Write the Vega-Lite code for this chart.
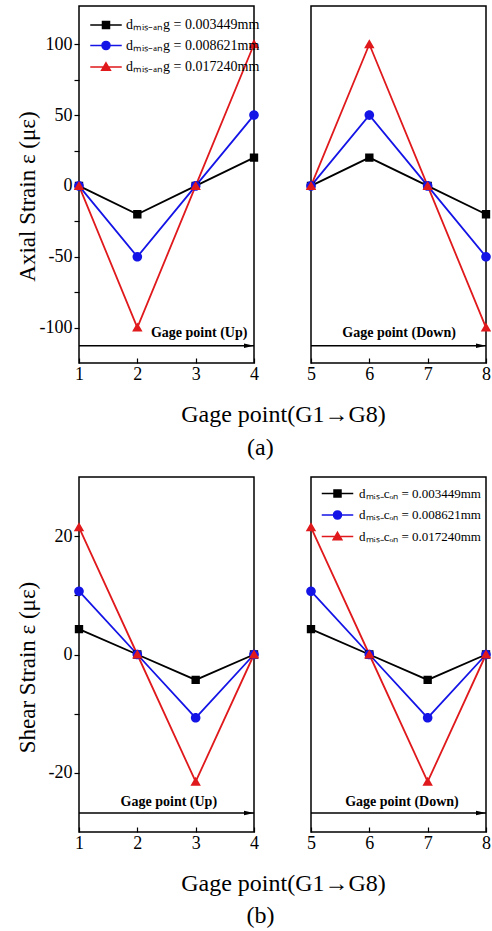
{
  "$schema": "https://vega.github.io/schema/vega-lite/v6.json",
  "background": "white",
  "padding": {"left": 15, "top": 5, "right": 0, "bottom": 0},
  "config": {
    "view": {"stroke": "black", "strokeWidth": 1.5},
    "axis": {"domain": false, "grid": false, "labelFont": "Liberation Serif", "labelFontSize": 18, "labelColor": "black", "labelFlush": false, "titleFont": "Liberation Serif", "titleFontSize": 23, "titleFontWeight": "normal", "titleColor": "black", "tickColor": "black", "tickWidth": 1.2},
    "legend": {"padding": 0, "symbolSize": 49, "symbolStrokeWidth": 1.5, "symbolOpacity": 1, "labelFont": "Liberation Serif", "labelColor": "black"}
  },
  "datasets": {
    "strain": [
      {"panel": "a", "d": "0.003449mm", "g": 1, "strain": 0},
      {"panel": "a", "d": "0.003449mm", "g": 2, "strain": -20},
      {"panel": "a", "d": "0.003449mm", "g": 3, "strain": 0},
      {"panel": "a", "d": "0.003449mm", "g": 4, "strain": 20},
      {"panel": "a", "d": "0.003449mm", "g": 5, "strain": 0},
      {"panel": "a", "d": "0.003449mm", "g": 6, "strain": 20},
      {"panel": "a", "d": "0.003449mm", "g": 7, "strain": 0},
      {"panel": "a", "d": "0.003449mm", "g": 8, "strain": -20},
      {"panel": "a", "d": "0.008621mm", "g": 1, "strain": 0},
      {"panel": "a", "d": "0.008621mm", "g": 2, "strain": -50},
      {"panel": "a", "d": "0.008621mm", "g": 3, "strain": 0},
      {"panel": "a", "d": "0.008621mm", "g": 4, "strain": 50},
      {"panel": "a", "d": "0.008621mm", "g": 5, "strain": 0},
      {"panel": "a", "d": "0.008621mm", "g": 6, "strain": 50},
      {"panel": "a", "d": "0.008621mm", "g": 7, "strain": 0},
      {"panel": "a", "d": "0.008621mm", "g": 8, "strain": -50},
      {"panel": "a", "d": "0.017240mm", "g": 1, "strain": 0},
      {"panel": "a", "d": "0.017240mm", "g": 2, "strain": -100},
      {"panel": "a", "d": "0.017240mm", "g": 3, "strain": 0},
      {"panel": "a", "d": "0.017240mm", "g": 4, "strain": 100},
      {"panel": "a", "d": "0.017240mm", "g": 5, "strain": 0},
      {"panel": "a", "d": "0.017240mm", "g": 6, "strain": 100},
      {"panel": "a", "d": "0.017240mm", "g": 7, "strain": 0},
      {"panel": "a", "d": "0.017240mm", "g": 8, "strain": -100},
      {"panel": "b", "d": "0.003449mm", "g": 1, "strain": 4.3},
      {"panel": "b", "d": "0.003449mm", "g": 2, "strain": 0},
      {"panel": "b", "d": "0.003449mm", "g": 3, "strain": -4.3},
      {"panel": "b", "d": "0.003449mm", "g": 4, "strain": 0},
      {"panel": "b", "d": "0.003449mm", "g": 5, "strain": 4.3},
      {"panel": "b", "d": "0.003449mm", "g": 6, "strain": 0},
      {"panel": "b", "d": "0.003449mm", "g": 7, "strain": -4.3},
      {"panel": "b", "d": "0.003449mm", "g": 8, "strain": 0},
      {"panel": "b", "d": "0.008621mm", "g": 1, "strain": 10.7},
      {"panel": "b", "d": "0.008621mm", "g": 2, "strain": 0},
      {"panel": "b", "d": "0.008621mm", "g": 3, "strain": -10.7},
      {"panel": "b", "d": "0.008621mm", "g": 4, "strain": 0},
      {"panel": "b", "d": "0.008621mm", "g": 5, "strain": 10.7},
      {"panel": "b", "d": "0.008621mm", "g": 6, "strain": 0},
      {"panel": "b", "d": "0.008621mm", "g": 7, "strain": -10.7},
      {"panel": "b", "d": "0.008621mm", "g": 8, "strain": 0},
      {"panel": "b", "d": "0.017240mm", "g": 1, "strain": 21.5},
      {"panel": "b", "d": "0.017240mm", "g": 2, "strain": 0},
      {"panel": "b", "d": "0.017240mm", "g": 3, "strain": -21.5},
      {"panel": "b", "d": "0.017240mm", "g": 4, "strain": 0},
      {"panel": "b", "d": "0.017240mm", "g": 5, "strain": 21.5},
      {"panel": "b", "d": "0.017240mm", "g": 6, "strain": 0},
      {"panel": "b", "d": "0.017240mm", "g": 7, "strain": -21.5},
      {"panel": "b", "d": "0.017240mm", "g": 8, "strain": 0}
    ],
    "notes": [
      {"panel": "a", "side": "up", "x0": 1, "x1": 4, "ay": -112.8, "tx": 3.06, "ty": -104, "label": "Gage point (Up)"},
      {"panel": "a", "side": "down", "x0": 5, "x1": 8, "ay": -112.8, "tx": 6.51, "ty": -104, "label": "Gage point (Down)"},
      {"panel": "b", "side": "up", "x0": 1, "x1": 4, "ay": -26.8, "tx": 2.54, "ty": -25, "label": "Gage point (Up)"},
      {"panel": "b", "side": "down", "x0": 5, "x1": 8, "ay": -26.8, "tx": 6.56, "ty": -25, "label": "Gage point (Down)"}
    ]
  },
  "resolve": {"scale": {"x": "independent", "y": "independent", "color": "independent", "shape": "independent", "fill": "independent", "stroke": "independent"}, "legend": {"color": "independent", "shape": "independent", "fill": "independent", "stroke": "independent"}},
  "spacing": 16,
  "vconcat": [
    {
      "bounds": "flush",
      "spacing": 57,
      "resolve": {"scale": {"x": "independent", "y": "independent", "color": "independent", "shape": "independent", "fill": "independent", "stroke": "independent"}, "legend": {"color": "independent", "shape": "independent", "fill": "independent", "stroke": "independent"}},
      "title": {"text": "(a)", "orient": "bottom", "anchor": "middle", "frame": "bounds", "offset": 9, "fontSize": 24, "font": "Liberation Serif", "fontWeight": "normal", "color": "black"},
      "hconcat": [
        {
          "width": 175, "height": 357,
          "layer": [
            {"data": {"name": "strain"}, "transform": [{"filter": "datum.panel=='a' && datum.g<=4"}],
             "mark": {"type": "line", "strokeWidth": 1.8},
             "encoding": {
               "x": {"field": "g", "type": "quantitative", "scale": {"domain": [1, 4], "nice": false, "zero": false},
                     "axis": {"values": [1, 2, 3, 4], "format": "d", "tickSize": -5, "labelPadding": 7, "title": "Gage point(G1→G8)", "titleX": 204, "titleY": 51, "titleAlign": "center", "titleBaseline": "middle", "titleFontSize": 24}},
               "y": {"field": "strain", "type": "quantitative", "scale": {"domain": [-125, 127], "nice": false, "zero": false},
                     "axis": {"values": [-100, -75, -50, -25, 0, 25, 50, 75, 100], "labelExpr": "datum.value % 50 == 0 ? '' + datum.value : ''", "tickSize": 5, "labelPadding": 2, "title": "Axial Strain ε (με)", "titleX": -52, "titleY": 190, "titleAngle": -90, "titleAlign": "center", "titleBaseline": "middle"}},
               "stroke": {"field": "d", "type": "nominal", "scale": {"domain": ["0.003449mm", "0.008621mm", "0.017240mm"], "range": ["#000000", "#1414e6", "#e0191c"]},
                          "legend": {"orient": "none", "title": null, "legendX": 20, "legendY": 12, "labelOffset": 13, "labelFontSize": 14, "rowPadding": 5.5, "labelExpr": "'dₘᵢₛ₋ₐₙg = ' + datum.label"}}
             }},
            {"data": {"name": "strain"}, "transform": [{"filter": "datum.panel=='a' && datum.g<=4"}],
             "mark": {"type": "point", "filled": true, "size": 70, "opacity": 1},
             "encoding": {
               "x": {"field": "g", "type": "quantitative"},
               "y": {"field": "strain", "type": "quantitative"},
               "fill": {"field": "d", "type": "nominal", "scale": {"domain": ["0.003449mm", "0.008621mm", "0.017240mm"], "range": ["#000000", "#1414e6", "#e0191c"]},
                        "legend": {"orient": "none", "title": null, "legendX": 20, "legendY": 12, "labelOffset": 13, "labelFontSize": 14, "rowPadding": 5.5, "labelExpr": "'dₘᵢₛ₋ₐₙg = ' + datum.label"}},
               "shape": {"field": "d", "type": "nominal", "scale": {"domain": ["0.003449mm", "0.008621mm", "0.017240mm"], "range": ["M-4.5,0H4.5M-1,-1H1V1H-1Z", "M-4.5,0H4.5M1.15,0A1.15,1.15,0,1,1,-1.15,0A1.15,1.15,0,1,1,1.15,0Z", "M-4.5,0H4.5M0,-1.2L1.25,0.95H-1.25Z"]},
                         "legend": {"orient": "none", "title": null, "legendX": 20, "legendY": 12, "labelOffset": 13, "labelFontSize": 14, "rowPadding": 5.5, "labelExpr": "'dₘᵢₛ₋ₐₙg = ' + datum.label"}}
             }},
            {"data": {"name": "notes"}, "transform": [{"filter": "datum.panel=='a' && datum.side=='up'"}],
             "mark": {"type": "rule", "strokeWidth": 1.5, "color": "black"},
             "encoding": {"x": {"field": "x0", "type": "quantitative"}, "x2": {"field": "x1"}, "y": {"field": "ay", "type": "quantitative"}}},
            {"data": {"name": "notes"}, "transform": [{"filter": "datum.panel=='a' && datum.side=='up'"}],
             "mark": {"type": "point", "shape": "M-2,-0.45L0,0L-2,0.45Z", "filled": true, "color": "black", "size": 100, "opacity": 1},
             "encoding": {"x": {"field": "x1", "type": "quantitative"}, "y": {"field": "ay", "type": "quantitative"}}},
            {"data": {"name": "notes"}, "transform": [{"filter": "datum.panel=='a' && datum.side=='up'"}],
             "mark": {"type": "text", "font": "Liberation Serif", "fontWeight": "bold", "fontSize": 14, "color": "black"},
             "encoding": {"x": {"field": "tx", "type": "quantitative"}, "y": {"field": "ty", "type": "quantitative"}, "text": {"field": "label"}}}
          ]
        },
        {
          "width": 175, "height": 357,
          "layer": [
            {"data": {"name": "strain"}, "transform": [{"filter": "datum.panel=='a' && datum.g>=5"}],
             "mark": {"type": "line", "strokeWidth": 1.8},
             "encoding": {
               "x": {"field": "g", "type": "quantitative", "scale": {"domain": [5, 8], "nice": false, "zero": false},
                     "axis": {"values": [5, 6, 7, 8], "format": "d", "tickSize": -5, "labelPadding": 7, "title": null}},
               "y": {"field": "strain", "type": "quantitative", "scale": {"domain": [-125, 127], "nice": false, "zero": false}, "axis": null},
               "color": {"field": "d", "type": "nominal", "scale": {"domain": ["0.003449mm", "0.008621mm", "0.017240mm"], "range": ["#000000", "#1414e6", "#e0191c"]}, "legend": null}
             }},
            {"data": {"name": "strain"}, "transform": [{"filter": "datum.panel=='a' && datum.g>=5"}],
             "mark": {"type": "point", "filled": true, "size": 70, "opacity": 1},
             "encoding": {
               "x": {"field": "g", "type": "quantitative"},
               "y": {"field": "strain", "type": "quantitative"},
               "color": {"field": "d", "type": "nominal", "legend": null},
               "shape": {"field": "d", "type": "nominal", "scale": {"domain": ["0.003449mm", "0.008621mm", "0.017240mm"], "range": ["M-4.5,0H4.5M-1,-1H1V1H-1Z", "M-4.5,0H4.5M1.15,0A1.15,1.15,0,1,1,-1.15,0A1.15,1.15,0,1,1,1.15,0Z", "M-4.5,0H4.5M0,-1.2L1.25,0.95H-1.25Z"]}, "legend": null}
             }},
            {"data": {"name": "notes"}, "transform": [{"filter": "datum.panel=='a' && datum.side=='down'"}],
             "mark": {"type": "rule", "strokeWidth": 1.5, "color": "black"},
             "encoding": {"x": {"field": "x0", "type": "quantitative"}, "x2": {"field": "x1"}, "y": {"field": "ay", "type": "quantitative"}}},
            {"data": {"name": "notes"}, "transform": [{"filter": "datum.panel=='a' && datum.side=='down'"}],
             "mark": {"type": "point", "shape": "M-2,-0.45L0,0L-2,0.45Z", "filled": true, "color": "black", "size": 100, "opacity": 1},
             "encoding": {"x": {"field": "x1", "type": "quantitative"}, "y": {"field": "ay", "type": "quantitative"}}},
            {"data": {"name": "notes"}, "transform": [{"filter": "datum.panel=='a' && datum.side=='down'"}],
             "mark": {"type": "text", "font": "Liberation Serif", "fontWeight": "bold", "fontSize": 14, "color": "black"},
             "encoding": {"x": {"field": "tx", "type": "quantitative"}, "y": {"field": "ty", "type": "quantitative"}, "text": {"field": "label"}}}
          ]
        }
      ]
    },
    {
      "bounds": "flush",
      "spacing": 57,
      "resolve": {"scale": {"x": "independent", "y": "independent", "color": "independent", "shape": "independent", "fill": "independent", "stroke": "independent"}, "legend": {"color": "independent", "shape": "independent", "fill": "independent", "stroke": "independent"}},
      "title": {"text": "(b)", "orient": "bottom", "anchor": "middle", "frame": "bounds", "offset": 8, "fontSize": 24, "font": "Liberation Serif", "fontWeight": "normal", "color": "black"},
      "hconcat": [
        {
          "width": 175, "height": 355,
          "layer": [
            {"data": {"name": "strain"}, "transform": [{"filter": "datum.panel=='b' && datum.g<=4"}],
             "mark": {"type": "line", "strokeWidth": 1.8},
             "encoding": {
               "x": {"field": "g", "type": "quantitative", "scale": {"domain": [1, 4], "nice": false, "zero": false},
                     "axis": {"values": [1, 2, 3, 4], "format": "d", "tickSize": -5, "labelPadding": 7, "title": "Gage point(G1→G8)", "titleX": 204, "titleY": 51, "titleAlign": "center", "titleBaseline": "middle", "titleFontSize": 24}},
               "y": {"field": "strain", "type": "quantitative", "scale": {"domain": [-30, 30], "nice": false, "zero": false},
                     "axis": {"values": [-20, -10, 0, 10, 20], "labelExpr": "datum.value % 20 == 0 ? '' + datum.value : ''", "tickSize": 5, "labelPadding": 2, "title": "Shear Strain ε (με)", "titleX": -52, "titleY": 190, "titleAngle": -90, "titleAlign": "center", "titleBaseline": "middle"}},
               "color": {"field": "d", "type": "nominal", "scale": {"domain": ["0.003449mm", "0.008621mm", "0.017240mm"], "range": ["#000000", "#1414e6", "#e0191c"]}, "legend": null}
             }},
            {"data": {"name": "strain"}, "transform": [{"filter": "datum.panel=='b' && datum.g<=4"}],
             "mark": {"type": "point", "filled": true, "size": 70, "opacity": 1},
             "encoding": {
               "x": {"field": "g", "type": "quantitative"},
               "y": {"field": "strain", "type": "quantitative"},
               "color": {"field": "d", "type": "nominal", "legend": null},
               "shape": {"field": "d", "type": "nominal", "scale": {"domain": ["0.003449mm", "0.008621mm", "0.017240mm"], "range": ["M-4.5,0H4.5M-1,-1H1V1H-1Z", "M-4.5,0H4.5M1.15,0A1.15,1.15,0,1,1,-1.15,0A1.15,1.15,0,1,1,1.15,0Z", "M-4.5,0H4.5M0,-1.2L1.25,0.95H-1.25Z"]}, "legend": null}
             }},
            {"data": {"name": "notes"}, "transform": [{"filter": "datum.panel=='b' && datum.side=='up'"}],
             "mark": {"type": "rule", "strokeWidth": 1.5, "color": "black"},
             "encoding": {"x": {"field": "x0", "type": "quantitative"}, "x2": {"field": "x1"}, "y": {"field": "ay", "type": "quantitative"}}},
            {"data": {"name": "notes"}, "transform": [{"filter": "datum.panel=='b' && datum.side=='up'"}],
             "mark": {"type": "point", "shape": "M-2,-0.45L0,0L-2,0.45Z", "filled": true, "color": "black", "size": 100, "opacity": 1},
             "encoding": {"x": {"field": "x1", "type": "quantitative"}, "y": {"field": "ay", "type": "quantitative"}}},
            {"data": {"name": "notes"}, "transform": [{"filter": "datum.panel=='b' && datum.side=='up'"}],
             "mark": {"type": "text", "font": "Liberation Serif", "fontWeight": "bold", "fontSize": 14, "color": "black"},
             "encoding": {"x": {"field": "tx", "type": "quantitative"}, "y": {"field": "ty", "type": "quantitative"}, "text": {"field": "label"}}}
          ]
        },
        {
          "width": 175, "height": 355,
          "layer": [
            {"data": {"name": "strain"}, "transform": [{"filter": "datum.panel=='b' && datum.g>=5"}],
             "mark": {"type": "line", "strokeWidth": 1.8},
             "encoding": {
               "x": {"field": "g", "type": "quantitative", "scale": {"domain": [5, 8], "nice": false, "zero": false},
                     "axis": {"values": [5, 6, 7, 8], "format": "d", "tickSize": -5, "labelPadding": 7, "title": null}},
               "y": {"field": "strain", "type": "quantitative", "scale": {"domain": [-30, 30], "nice": false, "zero": false}, "axis": null},
               "stroke": {"field": "d", "type": "nominal", "scale": {"domain": ["0.003449mm", "0.008621mm", "0.017240mm"], "range": ["#000000", "#1414e6", "#e0191c"]},
                          "legend": {"orient": "none", "title": null, "legendX": 20, "legendY": 10, "labelOffset": 15, "labelFontSize": 13, "rowPadding": 6.5, "labelExpr": "'dₘᵢₛ₋cₒₙ = ' + datum.label"}}
             }},
            {"data": {"name": "strain"}, "transform": [{"filter": "datum.panel=='b' && datum.g>=5"}],
             "mark": {"type": "point", "filled": true, "size": 70, "opacity": 1},
             "encoding": {
               "x": {"field": "g", "type": "quantitative"},
               "y": {"field": "strain", "type": "quantitative"},
               "fill": {"field": "d", "type": "nominal", "scale": {"domain": ["0.003449mm", "0.008621mm", "0.017240mm"], "range": ["#000000", "#1414e6", "#e0191c"]},
                        "legend": {"orient": "none", "title": null, "legendX": 20, "legendY": 10, "labelOffset": 15, "labelFontSize": 13, "rowPadding": 6.5, "labelExpr": "'dₘᵢₛ₋cₒₙ = ' + datum.label"}},
               "shape": {"field": "d", "type": "nominal", "scale": {"domain": ["0.003449mm", "0.008621mm", "0.017240mm"], "range": ["M-4.5,0H4.5M-1,-1H1V1H-1Z", "M-4.5,0H4.5M1.15,0A1.15,1.15,0,1,1,-1.15,0A1.15,1.15,0,1,1,1.15,0Z", "M-4.5,0H4.5M0,-1.2L1.25,0.95H-1.25Z"]},
                         "legend": {"orient": "none", "title": null, "legendX": 20, "legendY": 10, "labelOffset": 15, "labelFontSize": 13, "rowPadding": 6.5, "labelExpr": "'dₘᵢₛ₋cₒₙ = ' + datum.label"}}
             }},
            {"data": {"name": "notes"}, "transform": [{"filter": "datum.panel=='b' && datum.side=='down'"}],
             "mark": {"type": "rule", "strokeWidth": 1.5, "color": "black"},
             "encoding": {"x": {"field": "x0", "type": "quantitative"}, "x2": {"field": "x1"}, "y": {"field": "ay", "type": "quantitative"}}},
            {"data": {"name": "notes"}, "transform": [{"filter": "datum.panel=='b' && datum.side=='down'"}],
             "mark": {"type": "point", "shape": "M-2,-0.45L0,0L-2,0.45Z", "filled": true, "color": "black", "size": 100, "opacity": 1},
             "encoding": {"x": {"field": "x1", "type": "quantitative"}, "y": {"field": "ay", "type": "quantitative"}}},
            {"data": {"name": "notes"}, "transform": [{"filter": "datum.panel=='b' && datum.side=='down'"}],
             "mark": {"type": "text", "font": "Liberation Serif", "fontWeight": "bold", "fontSize": 14, "color": "black"},
             "encoding": {"x": {"field": "tx", "type": "quantitative"}, "y": {"field": "ty", "type": "quantitative"}, "text": {"field": "label"}}}
          ]
        }
      ]
    }
  ]
}
